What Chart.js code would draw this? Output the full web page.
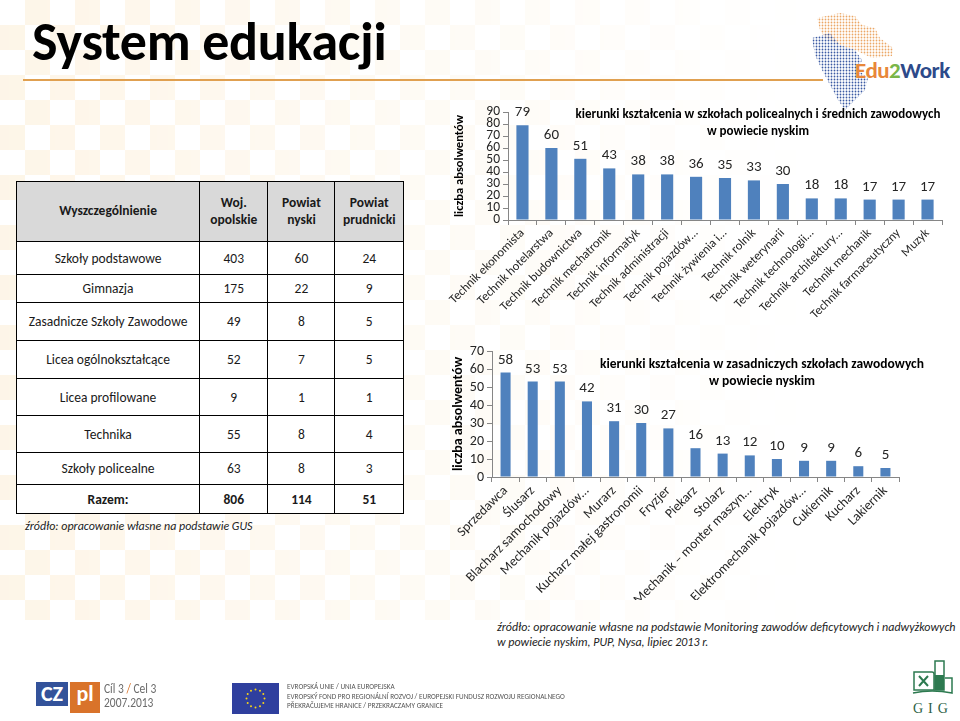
<!DOCTYPE html>
<html lang="pl">
<head>
<meta charset="utf-8">
<title>System edukacji</title>
<script src="https://cdn.jsdelivr.net/npm/chart.js@4.4.1/dist/chart.umd.min.js"></script>
<style>
  html, body { margin: 0; padding: 0; }
  body {
    width: 960px; height: 721px; position: relative; overflow: hidden;
    background: #fff; color: #111;
    font-family: Calibri, Carlito, Lato, sans-serif;
  }
  .checker {
    position: absolute; left: 0; top: 0; width: 960px; height: 620px;
    background-image: conic-gradient(#fdf3e2 25%, transparent 0 50%, #fdf3e2 0 75%, transparent 0);
    background-size: 50px 50px;
    -webkit-mask-image: linear-gradient(to right, rgba(0,0,0,.8), rgba(0,0,0,.3) 50%, rgba(0,0,0,0) 85%);
    mask-image: linear-gradient(to right, rgba(0,0,0,.8), rgba(0,0,0,.3) 50%, rgba(0,0,0,0) 85%);
  }
  h1 {
    position: absolute; left: 32px; top: 10px; margin: 0;
    font-size: 54px; font-weight: 700; letter-spacing: -0.3px; color: #000; line-height: 64px;
  }
  .rule { position: absolute; left: 23px; top: 79px; width: 800px; height: 2px; background: #e0a050; }

  table.edu {
    position: absolute; left: 16px; top: 181px; width: 388px;
    border-collapse: collapse; font-size: 13.5px; color: #1a1a1a; background: #fff;
  }
  table.edu td, table.edu th { border: 1.5px solid #000; text-align: center; padding: 0; }
  table.edu th { background: #d9d9d9; font-weight: 700; line-height: 1.2; }
  table.edu tr.sum td { font-weight: 700; }
  .src1 { position: absolute; left: 25px; top: 519px; font-size: 12px; font-style: italic; color: #222; }
  .src2 { position: absolute; left: 497px; top: 620px; font-size: 12px; font-style: italic; color: #222; line-height: 15px; }

  .box { position: absolute; }
  .logo-text { position: absolute; left: 855px; top: 56px; font-size: 23px; font-weight: 700; letter-spacing: -0.5px; }

  .czpl { position: absolute; top: 682px; height: 24px; color: #fff; font-weight: 700; font-size: 22px; line-height: 24px; text-align: center; }
  .cil { position: absolute; left: 104px; top: 682px; font-size: 13.5px; line-height: 14px; color: #6b6b6b; transform: scaleX(.85); transform-origin: left; }
  .eu { position: absolute; left: 232px; top: 683px; width: 47px; height: 31px; background: #2f3f9e; }
  .eutext { position: absolute; left: 287px; top: 681px; font-size: 9px; line-height: 9.5px; color: #555; transform: scaleX(.8); transform-origin: left; white-space: nowrap; }
  .gig { position: absolute; left: 913px; top: 701px; font-size: 14px; letter-spacing: 5px; color: #2d5f45; font-family: "Liberation Serif", serif; }
</style>
</head>
<body>
<div class="checker"></div>
<h1>System edukacji</h1>
<div class="rule"></div>

<!-- logo Edu2Work -->
<svg class="box" style="left:800px;top:0px" width="160" height="115">
  <defs>
    <pattern id="dotO" width="3" height="3" patternUnits="userSpaceOnUse"><circle cx="1.5" cy="1.5" r="0.9" fill="#eba766"/></pattern>
    <pattern id="dotB" width="3" height="3" patternUnits="userSpaceOnUse"><circle cx="1.5" cy="1.5" r="0.9" fill="#3b5aa3"/></pattern>
  </defs>
  <polygon fill="url(#dotO)" points="17,18 40,13 55,16 62,25 75,28 80,38 93,48 92,56 72,58 55,50 40,45 25,38 20,30"/>
  <polygon fill="url(#dotB)" points="12,38 30,33 40,45 55,50 62,60 58,70 68,78 65,90 55,100 45,110 38,100 30,85 22,70 15,55"/>
</svg>
<div class="logo-text"><span style="color:#e8873a">Edu</span><span style="color:#7ab648">2</span><span style="color:#2d4a8a">Work</span></div>

<table class="edu" id="eduTable"></table>
<div class="src1">źródło: opracowanie własne na podstawie GUS</div>

<div class="box" style="left:440px;top:100px;width:520px;height:240px"><canvas id="chartSchools"></canvas></div>
<div class="box" style="left:440px;top:340px;width:520px;height:260px"><canvas id="chartVocational"></canvas></div>

<div class="src2">źródło: opracowanie własne na podstawie Monitoring zawodów deficytowych i nadwyżkowych<br>w powiecie nyskim, PUP, Nysa, lipiec 2013 r.</div>

<!-- logotypy na dole -->
<div class="czpl" style="left:36px;width:32px;background:#33529a">CZ</div>
<div class="czpl" style="left:70px;width:30px;height:31px;background:#d9732a">pl</div>
<div class="cil">Cíl 3 <span style="color:#d9732a">/</span> Cel 3<br>2007.2013</div>
<div class="eu"><svg width="47" height="31" id="euStars"></svg></div>
<div class="eutext">EVROPSKÁ UNIE / UNIA EUROPEJSKA<br>EVROPSKÝ FOND PRO REGIONÁLNÍ ROZVOJ / EUROPEJSKI FUNDUSZ ROZWOJU REGIONALNEGO<br>PŘEKRAČUJEME HRANICE / PRZEKRACZAMY GRANICE</div>
<svg class="box" style="left:912px;top:658px" width="42" height="38">
  <path d="M2 14 L20 14 Q22 14 22 16 L22 32 L2 32 Z" fill="none" stroke="#2d7a50" stroke-width="1.5"/>
  <path d="M7 18 L16 28 M16 18 L7 28" stroke="#2d7a50" stroke-width="2"/>
  <rect x="23" y="3" width="9" height="29" fill="none" stroke="#2d7a50" stroke-width="1.5"/>
  <rect x="23" y="17" width="9" height="15" fill="#2d7a50"/>
  <path d="M1 35 Q20 31 40 35 L40 20 L33 20" fill="none" stroke="#2d7a50" stroke-width="1.5"/>
</svg>
<div class="gig">GIG</div>

<script>
// tabela - liczba szkół
var tableHead = ["Wyszczególnienie", "Woj.<br>opolskie", "Powiat<br>nyski", "Powiat<br>prudnicki"];
var schoolTypes = ["Szkoły podstawowe", "Gimnazja", "Zasadnicze Szkoły Zawodowe", "Licea ogólnokształcące",
                   "Licea profilowane", "Technika", "Szkoły policealne", "Razem:"];
var wojOpolskie = [403, 175, 49, 52, 9, 55, 63, 806];
var powiatNyski = [60, 22, 8, 7, 1, 8, 8, 114];
var powiatPrudnicki = [24, 9, 5, 5, 1, 4, 3, 51];
var rowHeights = [60, 33, 28, 38, 38, 37, 37, 32, 29];
var colWidths = [185, 68, 67, 68];

// wykres 1 - szkoły policealne i średnie zawodowe
var schoolLabels = ["Technik ekonomista", "Technik hotelarstwa", "Technik budownictwa", "Technik mechatronik",
  "Technik informatyk", "Technik administracji", "Technik pojazdów…", "Technik żywienia i…", "Technik rolnik",
  "Technik weterynarii", "Technik technologii…", "Technik architektury…", "Technik mechanik",
  "Technik farmaceutyczny", "Muzyk"];
var schoolValues = [79, 60, 51, 43, 38, 38, 36, 35, 33, 30, 18, 18, 17, 17, 17];
var schoolTitle = ["kierunki kształcenia w szkołach policealnych i średnich zawodowych", "w powiecie nyskim"];

// wykres 2 - zasadnicze szkoły zawodowe
var vocLabels = ["Sprzedawca", "Ślusarz", "Blacharz samochodowy", "Mechanik pojazdów…", "Murarz",
  "Kucharz małej gastronomii", "Fryzjer", "Piekarz", "Stolarz", "Mechanik – monter maszyn…", "Elektryk",
  "Elektromechanik pojazdów…", "Cukiernik", "Kucharz", "Lakiernik"];
var vocValues = [58, 53, 53, 42, 31, 30, 27, 16, 13, 12, 10, 9, 9, 6, 5];
var vocTitle = ["kierunki kształcenia w zasadniczych szkołach zawodowych", "w powiecie nyskim"];

var yTitle = "liczba absolwentów";

// build table
var tbl = document.getElementById("eduTable");
var html = "<tr style='height:" + rowHeights[0] + "px'>";
tableHead.forEach(function(h, i) { html += "<th style='width:" + colWidths[i] + "px'>" + h + "</th>"; });
html += "</tr>";
schoolTypes.forEach(function(name, i) {
  var cls = i === schoolTypes.length - 1 ? " class='sum'" : "";
  html += "<tr" + cls + " style='height:" + rowHeights[i + 1] + "px'><td>" + name + "</td><td>" + wojOpolskie[i] +
          "</td><td>" + powiatNyski[i] + "</td><td>" + powiatPrudnicki[i] + "</td></tr>";
});
tbl.innerHTML = html;

// EU stars
var stars = document.getElementById("euStars");
for (var k = 0; k < 12; k++) {
  var a = k * Math.PI / 6;
  var c = document.createElementNS("http://www.w3.org/2000/svg", "circle");
  c.setAttribute("cx", 23.5 + 9 * Math.cos(a));
  c.setAttribute("cy", 15.5 + 9 * Math.sin(a));
  c.setAttribute("r", 1);
  c.setAttribute("fill", "#f7d417");
  stars.appendChild(c);
}

var FONT = "Calibri, Carlito, Lato, sans-serif";
Chart.defaults.font.family = FONT;
Chart.defaults.color = "#262626";

// wartosci nad slupkami
var valueLabels = {
  id: "valueLabels",
  afterDatasetsDraw: function(chart, args, opts) {
    var ctx = chart.ctx;
    var meta = chart.getDatasetMeta(0);
    ctx.save();
    ctx.font = opts.size + "px " + FONT;
    ctx.fillStyle = "#262626";
    ctx.textAlign = "center";
    ctx.textBaseline = "alphabetic";
    meta.data.forEach(function(bar, i) {
      ctx.fillText(chart.data.datasets[0].data[i], bar.x, bar.y - opts.gap);
    });
    ctx.restore();
  }
};

// tytul wewnatrz obszaru wykresu
var overlayTitle = {
  id: "overlayTitle",
  afterDraw: function(chart, args, opts) {
    var ctx = chart.ctx;
    ctx.save();
    ctx.font = "bold " + opts.size + "px " + FONT;
    ctx.fillStyle = "#000";
    ctx.textAlign = "center";
    ctx.textBaseline = "middle";
    opts.lines.forEach(function(t, i) { ctx.fillText(t, opts.x, opts.y + i * opts.lineHeight); });
    ctx.restore();
  }
};

function makeChart(id, labels, values, cfg) {
  return new Chart(document.getElementById(id), {
    type: "bar",
    data: {
      labels: labels,
      datasets: [{
        data: values,
        backgroundColor: "#4f81bd",
        borderWidth: 0,
        barPercentage: cfg.barPct,
        categoryPercentage: 1
      }]
    },
    plugins: [valueLabels, overlayTitle],
    options: {
      responsive: true,
      maintainAspectRatio: false,
      animation: false,
      layout: { padding: { top: cfg.padTop, right: cfg.padRight, left: 0, bottom: 0 } },
      plugins: {
        legend: { display: false },
        tooltip: { enabled: false },
        valueLabels: { size: 15, gap: 9 },
        overlayTitle: { lines: cfg.title, x: cfg.titleX, y: cfg.titleY, lineHeight: 17, size: cfg.titleSize }
      },
      scales: {
        x: {
          grid: { drawOnChartArea: false, tickLength: 5, color: "#868686", offset: true },
          border: { color: "#868686" },
          ticks: { autoSkip: false, minRotation: 45, maxRotation: 45, padding: 1,
                   font: { size: cfg.xFont }, color: "#262626" },
          afterFit: function(s) { s.height = cfg.xHeight; }
        },
        y: {
          min: 0,
          max: cfg.yMax,
          ticks: { stepSize: 10, autoSkip: false, padding: 3, font: { size: cfg.yFont, lineHeight: 1 }, color: "#262626" },
          grid: { drawOnChartArea: false, tickLength: 5, color: "#868686" },
          border: { color: "#868686" },
          title: { display: true, text: yTitle, color: "#000",
                   font: { size: cfg.yTitleSize, weight: "bold" }, padding: { top: cfg.yTitlePad, bottom: 0 } },
          afterFit: function(s) { s.width = cfg.yWidth; }
        }
      }
    }
  });
}

makeChart("chartSchools", schoolLabels, schoolValues, {
  barPct: 0.42, padTop: 12, padRight: 18, title: schoolTitle, titleX: 318, titleY: 15, titleSize: 13,
  xFont: 12.5, xHeight: 120, yMax: 90, yFont: 13.5, yTitleSize: 12.5, yTitlePad: 12, yWidth: 68
});

makeChart("chartVocational", vocLabels, vocValues, {
  barPct: 0.37, padTop: 11, padRight: 61, title: vocTitle, titleX: 322, titleY: 25, titleSize: 13.5,
  xFont: 13.5, xHeight: 123, yMax: 70, yFont: 14, yTitleSize: 14, yTitlePad: 10, yWidth: 52
});
</script>
</body>
</html>
